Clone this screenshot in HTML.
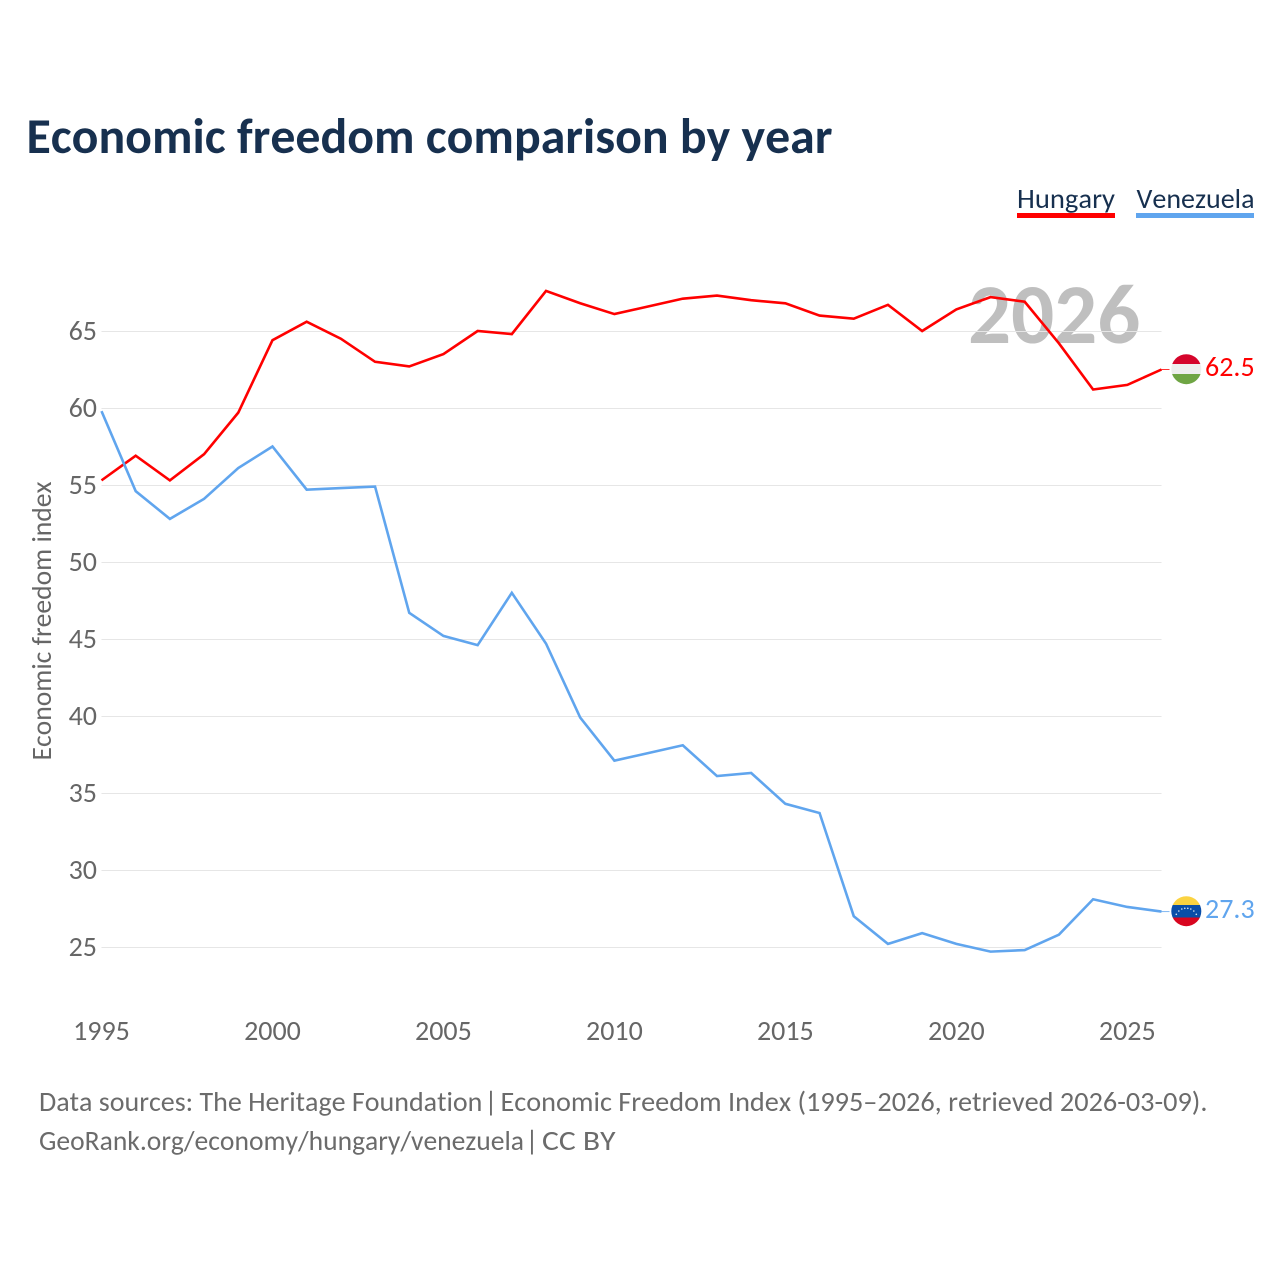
<!DOCTYPE html>
<html lang="en">
<head>
<meta charset="utf-8">
<title>Economic freedom comparison by year</title>
<style>
html,body{margin:0;padding:0;background:#fff;}
svg{display:block;font-family:"Carlito","Lato","Liberation Sans",sans-serif;}
text{font-kerning:none;font-variant-ligatures:none;}
</style>
</head>
<body>
<svg id="chart" xmlns="http://www.w3.org/2000/svg" width="1280" height="1280" viewBox="0 0 1280 1280">
  <rect width="1280" height="1280" fill="#fff"/>
  <defs>
    <clipPath id="clip-hu"><circle cx="1186.300" cy="369.200" r="15"/></clipPath>
    <clipPath id="clip-ve"><circle cx="1186.300" cy="911.200" r="15"/></clipPath>
  </defs>
  <text x="26.500" y="153" font-size="50" font-weight="700" fill="#17304f" textLength="806" lengthAdjust="spacingAndGlyphs">Economic freedom comparison by year</text>

  <g>
    <text x="1017" y="208" font-size="28" fill="#17304f" textLength="98" lengthAdjust="spacingAndGlyphs">Hungary</text>
    <rect x="1017" y="213" width="98" height="5" fill="#ff0000"/>
  </g>
  <g>
    <text x="1136.500" y="208" font-size="28" fill="#17304f">Venezuela</text>
    <rect x="1136" y="213" width="118" height="5" fill="#60a5ee"/>
  </g>

  <text x="968" y="343" font-size="85" font-weight="700" fill="#bfbfbf">2026</text>

  <g id="grid"></g>
  <g id="y-ticks"></g>
  <g id="x-ticks"></g>
  <text transform="translate(51,621) rotate(-90)" text-anchor="middle" font-size="28" fill="#666" textLength="279" lengthAdjust="spacingAndGlyphs">Economic freedom index</text>
  <g id="series"></g>

  <g clip-path="url(#clip-hu)">
    <rect x="1170" y="353" width="33" height="11" fill="#d5052b"/>
    <rect x="1170" y="364" width="33" height="10" fill="#eeeeee"/>
    <rect x="1170" y="374" width="33" height="12" fill="#6fa544"/>
  </g>
  <text id="value-hu" x="1205" y="376" font-size="28" fill="#ff0000">62.5</text>

  <g clip-path="url(#clip-ve)">
    <rect x="1170" y="895" width="33" height="10" fill="#fbd341"/>
    <rect x="1170" y="905" width="33" height="12.500" fill="#0a4ea8"/>
    <rect x="1170" y="917.500" width="33" height="10" fill="#d8051f"/>
    <g fill="#fff" fill-opacity="0.85">
      <circle cx="1176.300" cy="914.300" r="0.800"/><circle cx="1178.800" cy="911" r="0.800"/><circle cx="1181.800" cy="909" r="0.800"/>
      <circle cx="1184.800" cy="908.300" r="0.800"/><circle cx="1187.800" cy="908.300" r="0.800"/><circle cx="1190.800" cy="909" r="0.800"/>
      <circle cx="1193.800" cy="911" r="0.800"/><circle cx="1196.300" cy="914.300" r="0.800"/>
    </g>
  </g>
  <text id="value-ve" x="1205" y="918" font-size="28" fill="#60a5ee">27.3</text>

  <g font-size="28" fill="#6b6b6b">
    <text x="39" y="1111">Data sources: The Heritage Foundation</text>
    <text x="491" y="1111" text-anchor="middle">|</text>
    <text x="500.500" y="1111" textLength="707" lengthAdjust="spacingAndGlyphs">Economic Freedom Index (1995–2026, retrieved 2026-03-09).</text>
  </g>
  <g font-size="28" fill="#6b6b6b">
    <text x="39" y="1150" textLength="485" lengthAdjust="spacingAndGlyphs">GeoRank.org/economy/hungary/venezuela</text>
    <text x="532" y="1150" text-anchor="middle">|</text>
    <text x="542" y="1150" textLength="73.500" lengthAdjust="spacingAndGlyphs">CC BY</text>
  </g>
</svg>
<script>
const years = [1995,1996,1997,1998,1999,2000,2001,2002,2003,2004,2005,2006,2007,2008,2009,2010,2011,2012,2013,2014,2015,2016,2017,2018,2019,2020,2021,2022,2023,2024,2025,2026];
const hungaryValues = [55.3,56.9,55.3,57.0,59.7,64.4,65.6,64.5,63.0,62.7,63.5,65.0,64.8,67.6,66.8,66.1,66.6,67.1,67.3,67.0,66.8,66.0,65.8,66.7,65.0,66.4,67.2,66.9,64.2,61.2,61.5,62.5];
const venezuelaValues = [59.8,54.6,52.8,54.1,56.1,57.5,54.7,54.8,54.9,46.7,45.2,44.6,48.0,44.7,39.9,37.1,37.6,38.1,36.1,36.3,34.3,33.7,27.0,25.2,25.9,25.2,24.7,24.8,25.8,28.1,27.6,27.3];
const yTickValues = [25,30,35,40,45,50,55,60,65];
const xTickValues = [1995,2000,2005,2010,2015,2020,2025];

const SVGNS = 'http://www.w3.org/2000/svg';
function xScale(year){ return 101.5 + (year - 1995) * (1161.5 - 101.5) / 31; }
function yScale(value){ return 331 + (65 - value) * (947 - 331) / 40; }

const grid = document.getElementById('grid');
const yTicks = document.getElementById('y-ticks');
const xTicks = document.getElementById('x-ticks');
const series = document.getElementById('series');

yTickValues.forEach(function(v){
  const line = document.createElementNS(SVGNS, 'line');
  
  
  line.setAttribute('x1', xScale(1995));
  line.setAttribute('x2', xScale(2026));
  line.setAttribute('y1', Math.round(yScale(v)) + 0.5);
  line.setAttribute('y2', Math.round(yScale(v)) + 0.5);
  line.setAttribute('stroke', '#e6e6e6');
  line.setAttribute('stroke-width', '1');
  grid.appendChild(line);

  const label = document.createElementNS(SVGNS, 'text');
  
  
  label.setAttribute('x', 97);
  label.setAttribute('y', yScale(v) + 9);
  label.setAttribute('text-anchor', 'end');
  label.setAttribute('font-size', '28');
  label.setAttribute('fill', '#666');
  label.textContent = v;
  yTicks.appendChild(label);
});

xTickValues.forEach(function(v){
  const label = document.createElementNS(SVGNS, 'text');
  
  
  label.setAttribute('x', xScale(v));
  label.setAttribute('y', 1040);
  label.setAttribute('text-anchor', 'middle');
  label.setAttribute('font-size', '28');
  label.setAttribute('fill', '#666');
  label.textContent = v;
  xTicks.appendChild(label);
});

function pointsFor(values){
  return values.map(function(v, i){ return xScale(years[i]).toFixed(2) + ',' + yScale(v).toFixed(2); }).join(' ');
}

const hungaryLine = document.createElementNS(SVGNS, 'polyline');


hungaryLine.setAttribute('points', pointsFor(hungaryValues));
hungaryLine.setAttribute('fill', 'none');
hungaryLine.setAttribute('stroke', '#ff0000');
hungaryLine.setAttribute('stroke-width', '2.6');
series.appendChild(hungaryLine);

const venezuelaLine = document.createElementNS(SVGNS, 'polyline');


venezuelaLine.setAttribute('points', pointsFor(venezuelaValues));
venezuelaLine.setAttribute('fill', 'none');
venezuelaLine.setAttribute('stroke', '#60a5ee');
venezuelaLine.setAttribute('stroke-width', '2.6');
series.appendChild(venezuelaLine);

const hungaryConnector = document.createElementNS(SVGNS, 'line');


hungaryConnector.setAttribute('x1', xScale(2026));
hungaryConnector.setAttribute('x2', xScale(2026) + 8);
hungaryConnector.setAttribute('y1', yScale(hungaryValues[hungaryValues.length - 1]));
hungaryConnector.setAttribute('y2', yScale(hungaryValues[hungaryValues.length - 1]));
hungaryConnector.setAttribute('stroke', '#ff0000');
hungaryConnector.setAttribute('stroke-opacity', '0.8');
hungaryConnector.setAttribute('stroke-width', '1');
series.appendChild(hungaryConnector);

const venezuelaConnector = document.createElementNS(SVGNS, 'line');


venezuelaConnector.setAttribute('x1', xScale(2026));
venezuelaConnector.setAttribute('x2', xScale(2026) + 8);
venezuelaConnector.setAttribute('y1', yScale(venezuelaValues[venezuelaValues.length - 1]));
venezuelaConnector.setAttribute('y2', yScale(venezuelaValues[venezuelaValues.length - 1]));
venezuelaConnector.setAttribute('stroke', '#60a5ee');
venezuelaConnector.setAttribute('stroke-opacity', '0.8');
venezuelaConnector.setAttribute('stroke-width', '1');
series.appendChild(venezuelaConnector);
</script>
</body>
</html>
